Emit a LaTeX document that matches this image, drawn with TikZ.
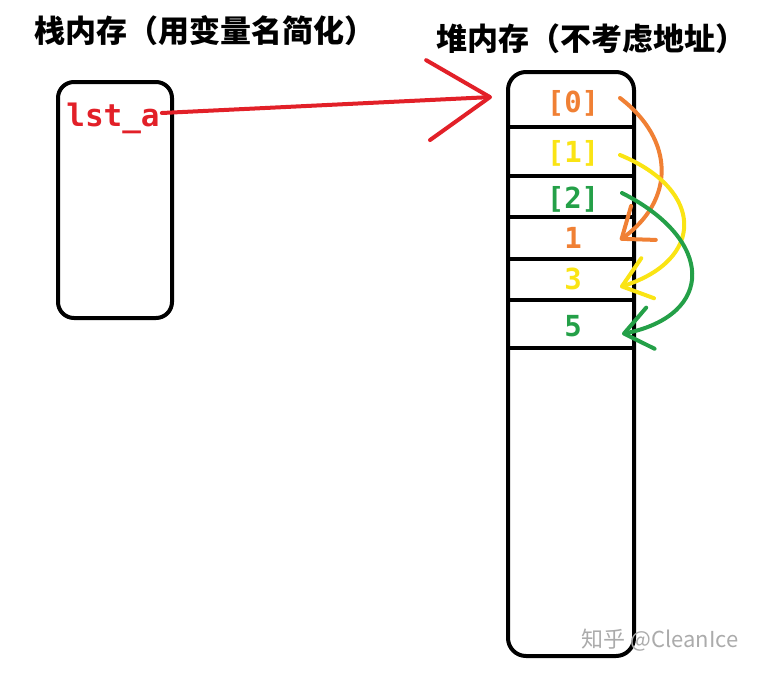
\documentclass[tikz,border=0pt]{standalone}
\usepackage{fontspec}
\usepackage{xcolor}
\usetikzlibrary{arrows.meta,positioning}
\newfontfamily\cjk{Noto Sans CJK SC}
\newfontfamily\codefont{DejaVu Sans Mono}
\definecolor{memred}{RGB}{226,32,40}
\definecolor{memorange}{RGB}{240,128,52}
\definecolor{memyellow}{RGB}{250,228,20}
\definecolor{memgreen}{RGB}{36,160,72}
\tikzset{
  membox/.style={line width=4pt, rounded corners=16pt},
  cellline/.style={line width=4pt},
  title/.style={font=\cjk\bfseries\fontsize{31}{36}\selectfont},
  cell/.style={font=\codefont\bfseries\fontsize{29}{34}\selectfont, inner sep=2pt},
  ptr/.style={line width=4pt, line cap=round, -{Straight Barb[length=62pt,width=80pt,round]}},
  hop/.style={line width=4pt, line cap=round, -{Straight Barb[length=27pt,width=42pt,round]}}
}

\begin{document}
\begin{tikzpicture}[x=1pt,y=-1pt]
  \useasboundingbox (0,0) rectangle (760,672);
  % Titles
  \node[title] (stacktitle) at (205,31) {栈内存（用变量名简化）};
  \node[title] (heaptitle) at (591,39) {堆内存（不考虑地址）};
  % Stack memory
  \draw[membox] (58,82) rectangle (172,318);
  \node[cell, text=memred, font=\codefont\bfseries\fontsize{31}{36}\selectfont] (lstA) at (113,118) {lst\_a};
  % Heap memory
  \draw[membox, rounded corners=18pt] (508,72) rectangle (634,656);
  \foreach \y in {127,176,217,259,300,348}
    \draw[cellline] (508,\y) -- (634,\y);
  \node[cell, text=memorange] (idx0) at (573,103) {[0]};
  \node[cell, text=memyellow] (idx1) at (573,153) {[1]};
  \node[cell, text=memgreen]  (idx2) at (573,199) {[2]};
  \node[cell, text=memorange] (val1) at (573,238) {1};
  \node[cell, text=memyellow] (val3) at (573,279) {3};
  \node[cell, text=memgreen]  (val5) at (573,326) {5};
  % Pointer from the variable into the heap
  \coordinate (heapin) at (492,97);
  \draw[ptr, memred] ([yshift=5pt]lstA.east) -- (heapin);
  % Index slots pointing at their values
  \coordinate (from0) at (620,98);
  \coordinate (from1) at (620,155);
  \coordinate (from2) at (622,193);
  \coordinate (to1) at (620,240);
  \coordinate (to3) at (620,287);
  \coordinate (to5) at (622,334);
  \draw[hop, memorange] (from0) .. controls (675,140) and (675,200) .. (to1);
  \draw[hop, memyellow] (from1) .. controls (705,190) and (705,260) .. (to3);
  \draw[hop, memgreen]  (from2) .. controls (715,240) and (715,315) .. (to5);
  % Watermark
  \node[font=\cjk\fontsize{22}{26}\selectfont, text=black!33] (mark) at (660,640) {知乎 @CleanIce};
\end{tikzpicture}
\end{document}
